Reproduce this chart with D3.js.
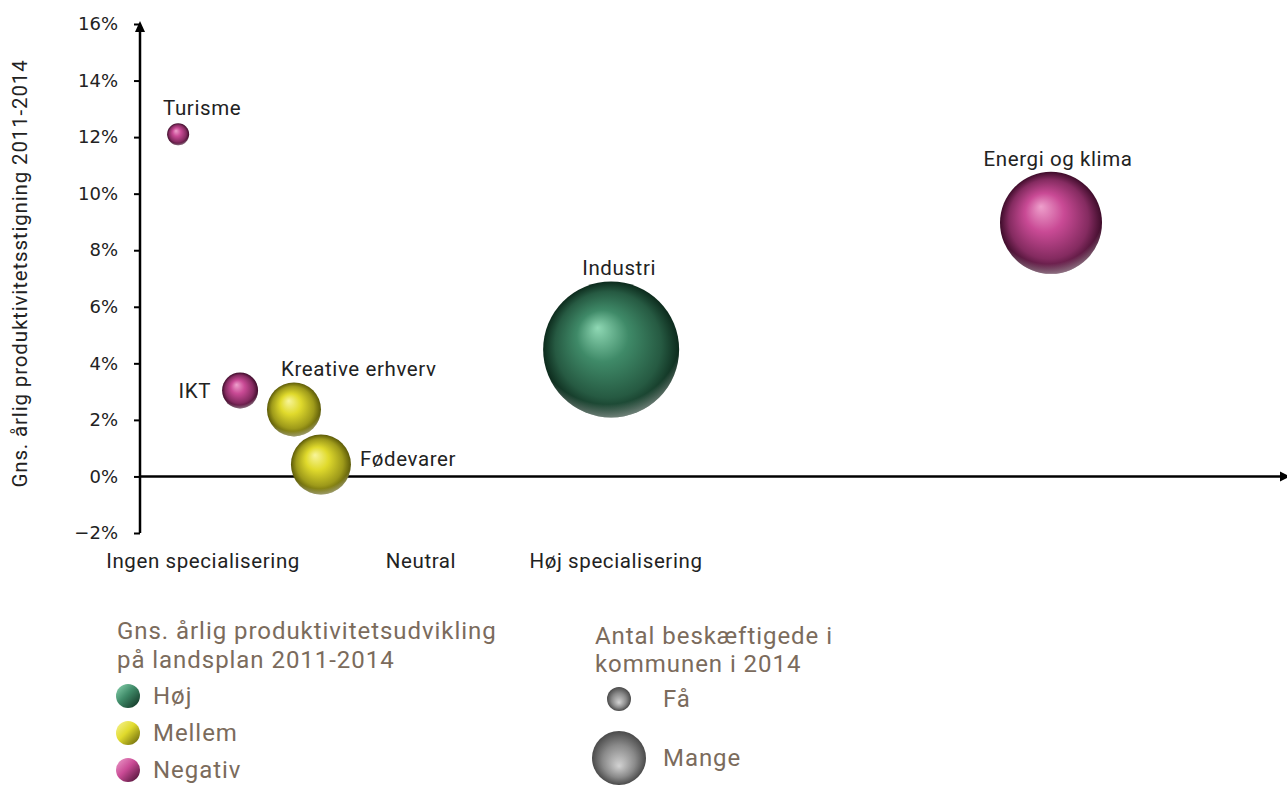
<!DOCTYPE html>
<html><head><meta charset="utf-8">
<script src="https://cdn.jsdelivr.net/npm/d3@7"></script>
<style>
html,body{margin:0;padding:0;background:#fff;}
svg{display:block;font-family:Roboto,"Noto Sans",sans-serif;}
</style></head>
<body><svg id="chart" width="1287" height="785"></svg>
<script>
// ---- data ----
const categories = ["Turisme","IKT","Kreative erhverv","Fødevarer","Industri","Energi og klima"];
const specialisation = [0.133, 0.349, 0.537, 0.631, 1.643, 3.177];   // location quotient (1 = neutral)
const growth = [0.121, 0.0304, 0.0237, 0.0042, 0.0449, 0.0897];      // avg yearly productivity growth
const employees = [262, 700, 1577, 1946, 10000, 5625];                // relative number employed
const groups = ["Negativ","Negativ","Mellem","Mellem","Høj","Negativ"];
const yTicks = [-0.02, 0, 0.02, 0.04, 0.06, 0.08, 0.10, 0.12, 0.14, 0.16];
const xLabels = ["Ingen specialisering","Neutral","Høj specialisering"];
const xLabelValues = [0.22, 0.98, 1.66];
const legendGroups = ["Høj","Mellem","Negativ"];
const sizeLegendLabels = ["Få","Mange"];
const sizeLegendValues = [311, 1577];
const yTitle = "Gns. årlig produktivitetsstigning 2011-2014";
const legendTitle1 = ["Gns. årlig produktivitetsudvikling","på landsplan 2011-2014"];
const legendTitle2 = ["Antal beskæftigede i","kommunen i 2014"];

// ---- styles / layout ----
const palette = {
  "Høj":     {hi:"#8fd8b4", base:"#3f8a68", dark:"#0c2a1c"},
  "Mellem":  {hi:"#f8f59a", base:"#e0da2c", dark:"#5c5a08"},
  "Negativ": {hi:"#eea0cc", base:"#c94a95", dark:"#3e0c2a"}
};
const labelLayout = [
  {dx:24, dy:-26, anchor:"middle"},
  {dx:-29, dy:0, anchor:"end"},
  {dx:-13, dy:-41, anchor:"start"},
  {dx:39, dy:-6, anchor:"start"},
  {dx:8, dy:-82, anchor:"middle"},
  {dx:7, dy:-64, anchor:"middle"}
];
const fs = 20.5, ls = 0.6;

const svg = d3.select("#chart");
const defs = svg.append("defs");

const x = d3.scaleLinear().domain([0, 4]).range([140, 1287]);
const y = d3.scaleLinear().domain([-0.02, 0.16]).range([533, 24]);
const r = d3.scaleSqrt().domain([0, 10000]).range([0, 68]);

// gradients
Object.entries(palette).forEach(([k, c], i) => {
  const g = defs.append("radialGradient").attr("id", "sph" + i)
    .attr("cx", "50%").attr("cy", "50%").attr("r", "50%").attr("fx", "40%").attr("fy", "34%");
  g.append("stop").attr("offset", "0%").attr("stop-color", c.hi);
  g.append("stop").attr("offset", "38%").attr("stop-color", c.base);
  g.append("stop").attr("offset", "78%").attr("stop-color", d3.interpolateRgb(c.base, c.dark)(0.5));
  g.append("stop").attr("offset", "100%").attr("stop-color", c.dark);
  c.id = "sph" + i;
  const lg = defs.append("linearGradient").attr("id", "leg" + i)
    .attr("x1", "0%").attr("y1", "0%").attr("x2", "100%").attr("y2", "100%");
  lg.append("stop").attr("offset", "0%").attr("stop-color", c.hi);
  lg.append("stop").attr("offset", "45%").attr("stop-color", c.base);
  lg.append("stop").attr("offset", "100%").attr("stop-color", c.dark);
  c.leg = "leg" + i;
});
// bottom rim reflection
const rim = defs.append("radialGradient").attr("id", "rim")
  .attr("cx", "47%").attr("cy", "35%").attr("r", "65%");
rim.append("stop").attr("offset", "0%").attr("stop-color", "#fff").attr("stop-opacity", 0);
rim.append("stop").attr("offset", "85%").attr("stop-color", "#fff").attr("stop-opacity", 0);
rim.append("stop").attr("offset", "100%").attr("stop-color", "#fff").attr("stop-opacity", 0.4);
const grey = defs.append("radialGradient").attr("id", "grey")
  .attr("cx", "50%").attr("cy", "50%").attr("r", "50%").attr("fx", "50%").attr("fy", "65%");
grey.append("stop").attr("offset", "0%").attr("stop-color", "#d2d2d2");
grey.append("stop").attr("offset", "60%").attr("stop-color", "#8a8a8a");
grey.append("stop").attr("offset", "100%").attr("stop-color", "#4a4a4a");

// axes
const yAxis = d3.axisLeft(y).tickValues(yTicks).tickFormat(d3.format(".0%")).tickSize(6).tickSizeOuter(0).tickPadding(16);
const gy = svg.append("g").attr("transform", `translate(${x(0)},0)`).call(yAxis);
gy.select(".domain").remove();
gy.selectAll(".tick line").attr("stroke", "#000").attr("stroke-width", 2);
gy.selectAll(".tick text").attr("font-family", "'DejaVu Sans', sans-serif").attr("font-size", 18).attr("fill", "#222");
svg.append("line").attr("x1", x(0)).attr("x2", x(0)).attr("y1", y(-0.02)).attr("y2", 30)
  .attr("stroke", "#000").attr("stroke-width", 2.5);
svg.append("path").attr("d", `M${x(0)-5},32 L${x(0)},21 L${x(0)+5},32 Z`).attr("fill", "#000");
svg.append("line").attr("x1", x(0)).attr("x2", 1282).attr("y1", y(0)).attr("y2", y(0))
  .attr("stroke", "#000").attr("stroke-width", 2.5);
svg.append("path").attr("d", `M1280,${y(0)-5} L1290,${y(0)} L1280,${y(0)+5} Z`).attr("fill", "#000");

// y title
svg.append("text").attr("transform", `translate(27,${(60+487)/2}) rotate(-90)`)
  .attr("text-anchor", "middle").attr("font-size", fs).attr("letter-spacing", 0.85).attr("fill", "#222").text(yTitle);

// x category labels
svg.append("g").selectAll("text").data(xLabels).join("text")
  .attr("x", (d, i) => x(xLabelValues[i])).attr("y", 561).attr("dy", "0.35em")
  .attr("text-anchor", "middle").attr("font-size", fs).attr("letter-spacing", ls).attr("fill", "#222").text(d => d);

// bubbles
const data = categories.map((c, i) => ({c, sx: specialisation[i], g: growth[i], e: employees[i], grp: groups[i], lay: labelLayout[i]}));
const order = data.slice().sort((a, b) => b.e - a.e);
const bub = svg.append("g").selectAll("g").data(order).join("g")
  .attr("transform", d => `translate(${x(d.sx)},${y(d.g)})`);
bub.append("circle").attr("r", d => r(d.e)).attr("fill", d => `url(#${palette[d.grp].id})`);
bub.append("circle").attr("r", d => r(d.e)).attr("fill", "url(#rim)");

svg.append("g").selectAll("text").data(data).join("text")
  .attr("x", d => x(d.sx) + d.lay.dx).attr("y", d => y(d.g) + d.lay.dy).attr("dy", "0.35em")
  .attr("text-anchor", d => d.lay.anchor).attr("font-size", fs).attr("letter-spacing", ls).attr("fill", "#222").text(d => d.c);

// legend 1
const legColor = "#7b6b5c";
const lfs = 24, lls = 0.95;
const l1 = svg.append("g");
l1.selectAll("text.t").data(legendTitle1).join("text").attr("class", "t")
  .attr("x", 117).attr("y", (d, i) => 631 + i * 29).attr("dy", "0.35em")
  .attr("font-size", lfs).attr("letter-spacing", lls).attr("fill", legColor).text(d => d);
const li = l1.selectAll("g.it").data(legendGroups).join("g").attr("class", "it")
  .attr("transform", (d, i) => `translate(128,${696 + i * 37})`);
li.append("circle").attr("r", 12).attr("fill", d => `url(#${palette[d].leg})`);
li.append("text").attr("x", 25).attr("dy", "0.35em").attr("font-size", lfs).attr("letter-spacing", lls).attr("fill", legColor).text(d => d);

// legend 2
const l2 = svg.append("g");
l2.selectAll("text.t").data(legendTitle2).join("text").attr("class", "t")
  .attr("x", 595).attr("y", (d, i) => 636 + i * 28).attr("dy", "0.35em")
  .attr("font-size", lfs).attr("letter-spacing", lls).attr("fill", legColor).text(d => d);
const si = l2.selectAll("g.it").data(sizeLegendLabels).join("g").attr("class", "it")
  .attr("transform", (d, i) => `translate(619,${[699, 758][i]})`);
si.append("circle").attr("r", (d, i) => r(sizeLegendValues[i])).attr("fill", "url(#grey)");
si.append("text").attr("x", 44).attr("dy", "0.35em").attr("font-size", lfs).attr("letter-spacing", lls).attr("fill", legColor).text(d => d);
</script></body></html>
